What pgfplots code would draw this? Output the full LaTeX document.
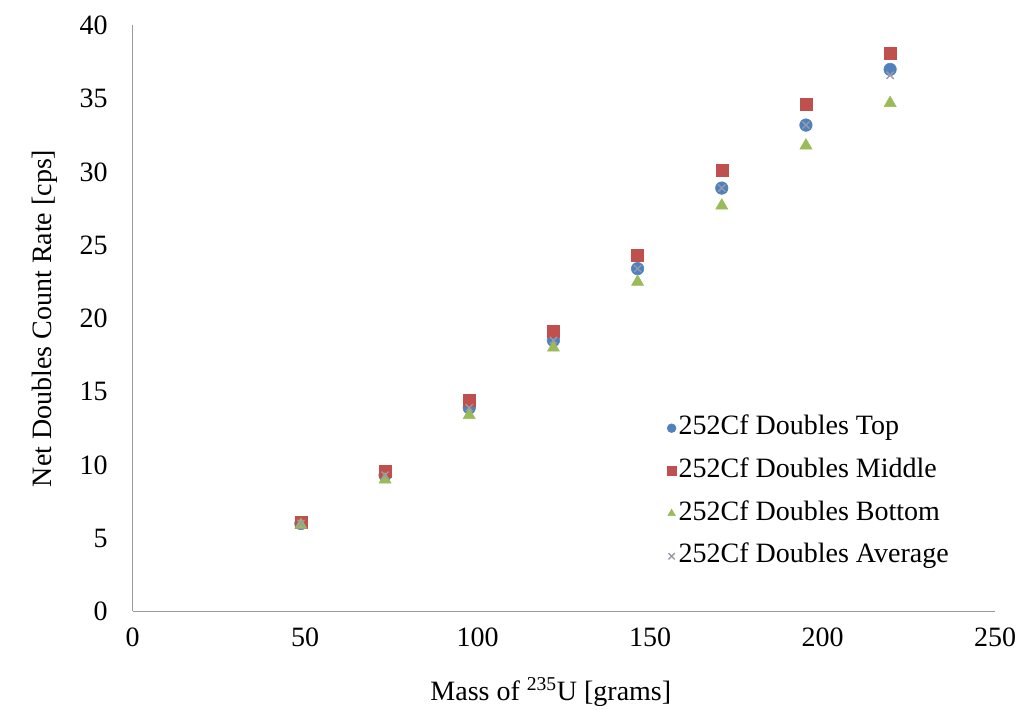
\documentclass[border=0pt]{standalone}
\usepackage{pgfplots}
\pgfplotsset{compat=1.18}
\usepackage{fontspec}
\setmainfont{Liberation Serif}
\definecolor{cTop}{HTML}{4F81BD}
\definecolor{cMid}{HTML}{C0504D}
\definecolor{cBot}{HTML}{9BBB59}
\definecolor{cAvg}{HTML}{9A9AAA}
\pgfplotstableread{
x top mid bot avg
48.8 6.0 6.1 5.9 6.0
73.2 9.3 9.6 9.0 9.3
97.6 13.9 14.4 13.4 13.9
122.0 18.5 19.1 18.0 18.5
146.4 23.4 24.3 22.5 23.4
170.8 28.9 30.1 27.7 28.9
195.2 33.2 34.6 31.8 33.2
219.6 37.0 38.1 34.7 36.6
}\datatable
\begin{document}
\begin{tikzpicture}
\begin{axis}[
  scale only axis, width=646.9pt, height=439.5pt,
  xmin=0, xmax=250, ymin=0, ymax=40,
  xtick={0,50,...,250}, ytick={0,5,...,40},
  axis x line*=bottom, axis y line*=left,
  axis line style={draw=black!40, line width=0.9pt},
  major tick length=0pt,
  tick label style={font=\fontsize{21}{24}\selectfont},
  /pgf/number format/assume math mode=true,
  x tick label style={anchor=center, yshift=-19.1pt},
  y tick label style={anchor=east, inner sep=0pt, xshift=-18.4pt},
  xlabel={Mass of \textsuperscript{235}U [grams]},
  ylabel={Net Doubles Count Rate [cps]},
  label style={font=\fontsize{21}{24}\selectfont},
  x label style={at={(axis description cs:0.485,-0.137)}, anchor=center},
  y label style={at={(axis description cs:-0.1014,0.5)}, anchor=center},
  legend style={at={(axis description cs:0.615,0.345)}, anchor=north west,
    draw=none, fill=none, font=\fontsize{21}{24}\selectfont,
    nodes={text height=15pt, text depth=5pt, inner sep=2pt},
    row sep=8pt},
  legend cell align=left,
  legend image code/.code={\draw[#1, mark size=3.3pt] plot coordinates {(0pt,0pt)};},
]
\addplot[only marks, mark=*, mark size=4.7pt, color=cTop, mark options={fill=cTop, draw=cTop}] table[x=x, y=top] {\datatable};
\addlegendentry{252Cf Doubles Top}
\addplot[only marks, mark=square*, mark size=4.5pt, color=cMid, mark options={fill=cMid, draw=cMid}] table[x=x, y=mid] {\datatable};
\addlegendentry{252Cf Doubles Middle}
\addplot[only marks, mark=triangle*, mark size=5.2pt, color=cBot, mark options={fill=cBot, draw=cBot}] table[x=x, y=bot] {\datatable};
\addlegendentry{252Cf Doubles Bottom}
\addplot[only marks, mark=x, mark size=3.8pt, color=cAvg, mark options={line width=1pt}] table[x=x, y=avg] {\datatable};
\addlegendentry{252Cf Doubles Average}
\end{axis}
\pgfresetboundingbox
\path[use as bounding box] ([shift={(-99.4pt,-73.9pt)}]current axis.south west) rectangle ([shift={(19.5pt,19.1pt)}]current axis.north east);
\end{tikzpicture}
\end{document}
